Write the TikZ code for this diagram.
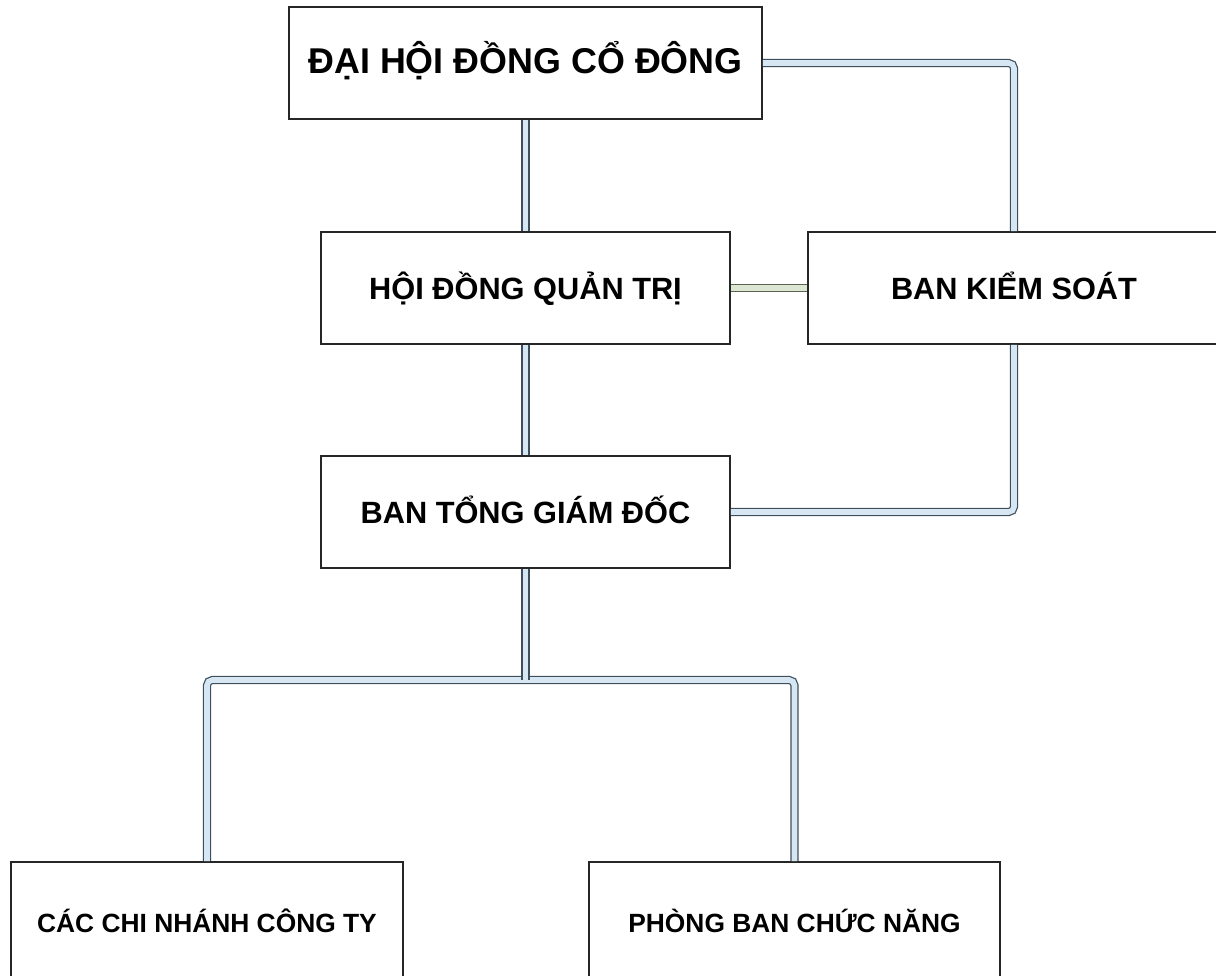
\documentclass[tikz,border=0pt]{standalone}
\usepackage{fontspec}
\setmainfont{Liberation Sans}
\usepackage{tikz}
\usetikzlibrary{calc}

\definecolor{linkline}{HTML}{3D4F5C}
\definecolor{linkfill}{HTML}{D6E6F2}
\definecolor{sideline}{HTML}{5B6453}
\definecolor{sidefill}{HTML}{DDE6D3}

\begin{document}
\begin{tikzpicture}[x = 0.02cm, y = -0.02cm,
    box/.style = {rectangle, draw = black!85, line width = 0.9pt, fill = white, minimum height = 2.24cm, text centered, text height = 20pt, text depth = 6.4pt, font = \bfseries\fontsize{17.5}{20}\selectfont},
    topbox/.style = {box, text height = 22pt, text depth = 9.6pt, font = \bfseries\fontsize{20.4}{24}\selectfont},
    leafbox/.style = {box, minimum height = 2.4cm, text height = 17pt, text depth = 5.6pt, font = \bfseries\fontsize{15}{18}\selectfont},
    link/.style = {draw = linkline, line width = 0.7pt, double = linkfill, double distance = 3.2pt, rounded corners = 3pt},
    sidelink/.style = {link, draw = sideline, double = sidefill}]

    \useasboundingbox (0, 0) rectangle (1216, 975);
    \clip (0, 0) rectangle (1216, 975);

    \node (daihoi) [topbox, minimum width = 9.46cm] at (525.5, 63) {ĐẠI HỘI ĐỒNG CỔ ĐÔNG};
    \node (hoidong) [box, minimum width = 8.18cm] at (525.5, 288) {HỘI ĐỒNG QUẢN TRỊ};
    \node (kiemsoat) [box, minimum width = 8.24cm] at (1014, 288) {BAN KIỂM SOÁT};
    \node (tonggd) [box, minimum width = 8.18cm] at (525.5, 512) {BAN TỔNG GIÁM ĐỐC};
    \node (chinhanh) [leafbox, minimum width = 7.84cm] at (207, 922) {CÁC CHI NHÁNH CÔNG TY};
    \node (phongban) [leafbox, minimum width = 8.22cm] at (794.5, 922) {PHÒNG BAN CHỨC NĂNG};

    \coordinate (split) at (525.5, 680);

    \draw [link] (daihoi.south) -- (hoidong.north);
    \draw [link] (daihoi.east) -| (kiemsoat.north);
    \draw [sidelink] (hoidong.east) -- (kiemsoat.west);
    \draw [link] (hoidong.south) -- (tonggd.north);
    \draw [link] (kiemsoat.south) |- (tonggd.east);
    \draw [link] (chinhanh.north) |- (split) -| (phongban.north);
    \draw [link] (tonggd.south) -- (split);
\end{tikzpicture}
\end{document}
